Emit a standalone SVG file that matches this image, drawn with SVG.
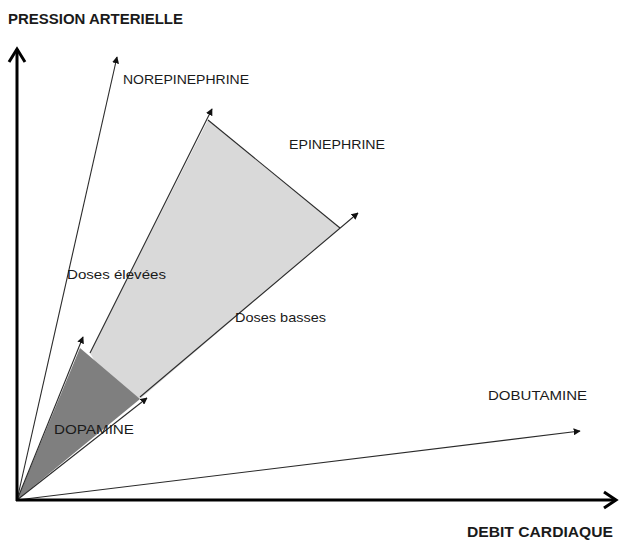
<svg xmlns="http://www.w3.org/2000/svg" width="619" height="541" viewBox="0 0 619 541">
<defs>
<style>
.t{font-family:"Liberation Sans",Arial,sans-serif;font-size:13.5px;fill:#1a1a1a}
.b{font-family:"Liberation Sans",Arial,sans-serif;font-size:14px;font-weight:bold;fill:#1a1a1a}
.ln{stroke:#2a2a2a;stroke-width:1.1;fill:none}
.ax{stroke:#000;stroke-width:3;fill:none}
</style>
<marker id="ah" viewBox="0 0 10 10" refX="9" refY="5" markerWidth="7" markerHeight="7" markerUnits="userSpaceOnUse" orient="auto">
<path d="M0,0 L10,5 L0,10 Z" fill="#111"/>
</marker>
</defs>
<rect width="619" height="541" fill="#fff"/>
<g id="regions">
<polygon id="epinephrine-area" points="90,353 208,120 340,228 140,399 100,370" fill="#d9d9d9"/>
<polygon id="dopamine-area" points="17,500 80,348 140,399" fill="#7f7f7f"/>
</g>
<g id="connectors">
<line class="ln" x1="17" y1="500" x2="117" y2="57" marker-end="url(#ah)"/>
<line class="ln" x1="90" y1="353" x2="212" y2="109" marker-end="url(#ah)"/>
<line class="ln" x1="208" y1="120" x2="340" y2="228"/>
<line class="ln" x1="140" y1="397" x2="358" y2="213" marker-end="url(#ah)"/>
<line class="ln" x1="17" y1="500" x2="83" y2="337" marker-end="url(#ah)"/>
<line class="ln" x1="17" y1="500" x2="147" y2="398" marker-end="url(#ah)"/>
<line class="ln" x1="17" y1="500" x2="580" y2="431" marker-end="url(#ah)"/>
</g>
<g id="axes">
<path class="ax" d="M17,501 L17,49"/>
<path class="ax" d="M9,62 L17,49 L25,62"/>
<path class="ax" d="M16,500 L616,500"/>
<path class="ax" d="M604,492 L616,500 L604,508"/>
</g>
<g id="labels">
<text class="b" x="8" y="24" textLength="175" lengthAdjust="spacingAndGlyphs">PRESSION ARTERIELLE</text>
<text class="b" x="467" y="537" textLength="146" lengthAdjust="spacingAndGlyphs">DEBIT CARDIAQUE</text>
<text class="t" x="123" y="84" textLength="126" lengthAdjust="spacingAndGlyphs">NOREPINEPHRINE</text>
<text class="t" x="289" y="149" textLength="96" lengthAdjust="spacingAndGlyphs">EPINEPHRINE</text>
<text class="t" x="67" y="279" textLength="99" lengthAdjust="spacingAndGlyphs">Doses élevées</text>
<text class="t" x="235" y="322" textLength="91" lengthAdjust="spacingAndGlyphs">Doses basses</text>
<text class="t" x="54" y="434" textLength="80" lengthAdjust="spacingAndGlyphs">DOPAMINE</text>
<text class="t" x="488" y="400" textLength="99" lengthAdjust="spacingAndGlyphs">DOBUTAMINE</text>
</g>
</svg>
